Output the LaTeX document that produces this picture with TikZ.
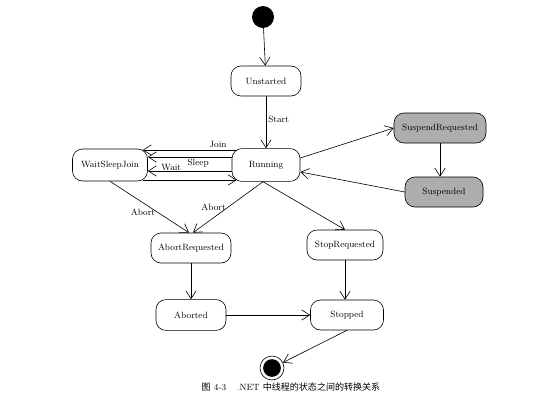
\documentclass[tikz,border=0pt]{standalone}
\usepackage{fontspec}
\newfontfamily\cjk{Noto Sans CJK SC}
\usetikzlibrary{arrows.meta, positioning, calc}

\tikzset{
  statebox/.style={draw, rounded corners=3.5mm, minimum height=10.5mm, inner sep=0pt,
    line width=0.6pt, font=\fontsize{9}{11}\selectfont},
  greybox/.style={statebox, fill=black!32},
  startdot/.style={circle, fill=black, minimum size=7.7mm, inner sep=0pt},
  enddot/.style={circle, draw, line width=0.6pt, minimum size=8.4mm, inner sep=0pt,
    path picture={\fill (path picture bounding box.center) circle (3.1mm);}},
  trans/.style={->, line width=0.6pt},
  lbl/.style={font=\fontsize{9}{11}\selectfont, inner sep=2pt},
}

\begin{document}
\begin{tikzpicture}[x=0.35mm, y=-0.35mm, >={Straight Barb[length=2.8mm,width=3.6mm]}]
  \useasboundingbox (0,0) rectangle (545,408);
  % states
  \node[startdot] (init) at (263,17) {};
  \node[statebox, minimum width=24.5mm] (unst) at (266,81) {Unstarted};
  \node[statebox, minimum width=23.8mm, minimum height=11.5mm] (run) at (266,165) {Running};
  \node[statebox, minimum width=26.25mm, minimum height=11.2mm] (wsj) at (110,165) {WaitSleepJoin};
  \node[greybox, minimum width=32.2mm] (sreq) at (440,128) {SuspendRequested};
  \node[greybox, minimum width=27.3mm] (susp) at (444,192) {Suspended};
  \node[statebox, minimum width=28mm] (areq) at (191,248) {AbortRequested};
  \node[statebox, minimum width=26.6mm] (streq) at (345,245) {StopRequested};
  \node[statebox, minimum width=24.5mm, minimum height=10.8mm] (abtd) at (191,315) {Aborted};
  \node[statebox, minimum width=25.55mm] (stpd) at (347,315) {Stopped};
  \node[enddot] (fin) at (272,368) {};

  % transitions
  \draw[trans] (init) -- (unst);
  \draw[trans] (unst) -- node[lbl, right, pos=0.45] {Start} (run);
  \draw[trans] ($(run.west)+(5,-15)$) -- node[lbl, above, pos=0.2] {Join} ($(wsj.east)+(-5,-15)$);
  \draw[trans] ($(run.west)+(0,-8)$) -- node[lbl, below, pos=0.4] {Sleep} ($(wsj.east)+(0,-8)$);
  \draw[trans] ($(run.west)+(0,6)$) -- node[lbl, above, inner sep=0.5pt, pos=0.72] {Wait} ($(wsj.east)+(0,6)$);
  \draw[trans] ($(wsj.east)+(-5,15)$) -- ($(run.west)+(5,15)$);
  \draw[trans] ($(run.east)+(0,-7)$) -- (sreq.west);
  \draw[trans] (sreq.south) -- (sreq.south |- susp.north);
  \draw[trans] (susp.west) -- ($(run.east)+(0,7)$);
  \draw[trans] (wsj.south) -- node[lbl, left, pos=0.6] {Abort} ($(areq.north)+(-2,0)$);
  \draw[trans] ($(run.south)+(-3,0)$) -- node[lbl, left, pos=0.5] {Abort} ($(areq.north)+(2,0)$);
  \draw[trans] ($(run.south)+(-3,0)$) -- (streq.north);
  \draw[trans] (areq.south) -- (areq.south |- abtd.north);
  \draw[trans] (streq.south) -- (streq.south |- stpd.north);
  \draw[trans] (abtd) -- (stpd);
  \draw[trans] (stpd.south) -- (fin);

  % caption
  \node[font=\fontsize{9}{11}\selectfont] (cap) at (291,387)
    {{\cjk 图} 4-3\hspace{1.2em}.NET {\cjk 中线程的状态之间的转换关系}};
\end{tikzpicture}
\end{document}
